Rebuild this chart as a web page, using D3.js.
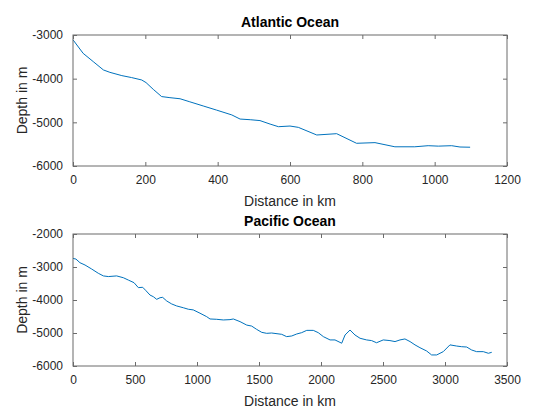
<!DOCTYPE html>
<html><head><meta charset="utf-8">
<script src="https://cdn.jsdelivr.net/npm/d3@7"></script>
<style>body{margin:0;background:#fff}svg{display:block}</style>
</head><body>
<script>
const atlanticDist = [0,28,56,84,102,135,162,190,202,222,245,268,296,323,360,397,439,462,490,517,545,568,600,623,674,729,784,835,890,945,982,1010,1047,1070,1098];
const atlanticDepth = [-3110,-3420,-3610,-3800,-3855,-3930,-3975,-4030,-4090,-4245,-4410,-4435,-4460,-4530,-4625,-4720,-4830,-4925,-4940,-4960,-5040,-5100,-5085,-5115,-5290,-5260,-5480,-5465,-5560,-5560,-5535,-5545,-5535,-5565,-5570];
const pacificDist = [0,24,56,97,150,204,245,285,352,406,446,492,527,562,589,621,648,675,702,723,756,796,836,890,930,970,1024,1078,1105,1159,1212,1266,1293,1347,1401,1441,1481,1522,1562,1602,1683,1723,1764,1804,1844,1885,1938,1978,2019,2073,2113,2167,2194,2234,2274,2315,2368,2408,2448,2502,2556,2597,2637,2677,2718,2758,2798,2852,2892,2933,2986,3040,3094,3134,3175,3215,3255,3309,3350,3377];
const pacificDepth = [-2740,-2760,-2870,-2940,-3060,-3190,-3270,-3290,-3270,-3325,-3395,-3475,-3625,-3615,-3720,-3850,-3900,-3980,-3930,-3920,-4030,-4120,-4180,-4235,-4280,-4300,-4400,-4505,-4575,-4585,-4605,-4595,-4575,-4655,-4760,-4790,-4890,-4980,-5010,-5000,-5040,-5110,-5090,-5030,-4990,-4920,-4920,-4990,-5110,-5210,-5210,-5310,-5060,-4910,-5060,-5160,-5210,-5230,-5295,-5210,-5230,-5260,-5210,-5180,-5260,-5360,-5445,-5545,-5665,-5665,-5565,-5360,-5395,-5415,-5425,-5515,-5565,-5565,-5615,-5585];
const atlanticXTicks = [0,200,400,600,800,1000,1200];
const atlanticYTicks = [-6000,-5000,-4000,-3000];
const pacificXTicks = [0,500,1000,1500,2000,2500,3000,3500];
const pacificYTicks = [-6000,-5000,-4000,-3000,-2000];
const titles = ["Atlantic Ocean","Pacific Ocean"];
const xLabel = "Distance in km", yLabel = "Depth in m";

const W=560,H=420;
const svg=d3.select("body").append("svg").attr("width",W).attr("height",H)
  .style("font-family","'Liberation Sans', Arial, Helvetica, sans-serif");

const panels=[
  {title:titles[0],dist:atlanticDist,depth:atlanticDepth,xd:[0,1200],yd:[-6000,-3000],xt:atlanticXTicks,yt:atlanticYTicks,top:35,bottom:166},
  {title:titles[1],dist:pacificDist,depth:pacificDepth,xd:[0,3500],yd:[-6000,-2000],xt:pacificXTicks,yt:pacificYTicks,top:234,bottom:366}
];
const left=73,right=507;
const axisColor="#6b6b6b", textColor="#262626";

panels.forEach(p=>{
  const x=d3.scaleLinear().domain(p.xd).range([left,right]);
  const y=d3.scaleLinear().domain(p.yd).range([p.bottom,p.top]);
  const g=svg.append("g");
  g.append("path").datum(p.dist.map((d,i)=>[d,p.depth[i]]))
    .attr("fill","none").attr("stroke","#0072BD").attr("stroke-width",1)
    .attr("d",d3.line().x(d=>x(d[0])).y(d=>y(d[1])));
  const styleAxis=(sel,labels)=>{
    sel.select(".domain").remove();
    sel.selectAll(".tick line").attr("stroke",axisColor);
    sel.selectAll(".tick text").attr("fill",textColor).style("font-size","12px");
    if(!labels) sel.selectAll(".tick text").remove();
  };
  g.append("g").attr("transform",`translate(0,${p.bottom})`)
    .call(d3.axisBottom(x).tickValues(p.xt).tickSize(-4).tickPadding(9).tickFormat(d3.format("d")))
    .call(s=>styleAxis(s,true));
  g.append("g").attr("transform",`translate(0,${p.top})`)
    .call(d3.axisTop(x).tickValues(p.xt).tickSize(-4))
    .call(s=>styleAxis(s,false));
  g.append("g").attr("transform",`translate(${left},0)`)
    .call(d3.axisLeft(y).tickValues(p.yt).tickSize(-4).tickPadding(10).tickFormat(d=>d<0?"-"+Math.abs(d):d))
    .call(s=>styleAxis(s,true));
  g.append("g").attr("transform",`translate(${right},0)`)
    .call(d3.axisRight(y).tickValues(p.yt).tickSize(-4))
    .call(s=>styleAxis(s,false));
  g.append("rect").attr("x",left).attr("y",p.top).attr("width",right-left).attr("height",p.bottom-p.top)
    .attr("fill","none").attr("stroke",axisColor).attr("stroke-width",1);
  g.append("text").attr("x",(left+right)/2).attr("y",p.top-8).attr("text-anchor","middle")
    .style("font-size","14px").style("font-weight","bold").attr("fill","#000").text(p.title);
  g.append("text").attr("x",(left+right)/2).attr("y",p.bottom+40).attr("text-anchor","middle")
    .style("font-size","14px").attr("fill",textColor).text(xLabel);
  g.append("text").attr("transform",`translate(27,${(p.top+p.bottom)/2}) rotate(-90)`).attr("text-anchor","middle")
    .style("font-size","14px").attr("fill",textColor).text(yLabel);
});
</script>
</body></html>
